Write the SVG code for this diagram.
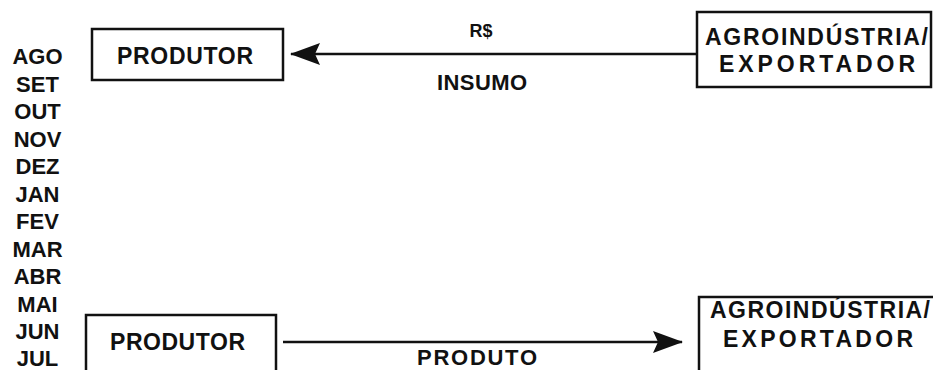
<svg xmlns="http://www.w3.org/2000/svg" width="933" height="370" viewBox="0 0 933 370">
<style>
text{font-family:"Liberation Sans",Arial,sans-serif;font-weight:bold;fill:#111;}
.m{font-size:22px;text-anchor:middle;}
.b{font-size:23px;text-anchor:middle;}
.box{fill:#fff;stroke:#111;stroke-width:2.5;}
.c{stroke:#111;stroke-width:2.5;fill:none;}
</style>
<defs>
<marker id="ah" viewBox="0 0 30 22" refX="29" refY="11" markerWidth="30" markerHeight="22" markerUnits="userSpaceOnUse" orient="auto">
<path d="M0,0 L30,11 L0,22 L5,11 Z" fill="#111"/>
</marker>
</defs>
<rect width="933" height="370" fill="#fff"/>
<g id="months">
<text class="m" x="37.5" y="64">AGO</text>
<text class="m" x="37.5" y="91.5">SET</text>
<text class="m" x="37.5" y="119">OUT</text>
<text class="m" x="37.5" y="146.5">NOV</text>
<text class="m" x="37.5" y="174">DEZ</text>
<text class="m" x="37.5" y="201.5">JAN</text>
<text class="m" x="37.5" y="229">FEV</text>
<text class="m" x="37.5" y="256.5">MAR</text>
<text class="m" x="37.5" y="284">ABR</text>
<text class="m" x="37.5" y="311.5">MAI</text>
<text class="m" x="37.5" y="339">JUN</text>
<text class="m" x="37.5" y="366">JUL</text>
</g>
<g id="connectors">
<line class="c" x1="697" y1="54" x2="291" y2="54" marker-end="url(#ah)"/>
<text class="m" x="481" y="37" style="font-size:19px" textLength="23" lengthAdjust="spacingAndGlyphs">R$</text>
<text class="m" x="482" y="90" textLength="90" lengthAdjust="spacing">INSUMO</text>
<line class="c" x1="283" y1="342" x2="682" y2="342" marker-end="url(#ah)"/>
<text class="m" x="477" y="365" textLength="120" lengthAdjust="spacing">PRODUTO</text>
</g>
<g id="produtor-top">
<rect class="box" x="92" y="29" width="191" height="51"/>
<text class="b" x="185" y="64" textLength="136" lengthAdjust="spacing">PRODUTOR</text>
</g>
<g id="agro-top">
<rect class="box" x="697" y="12" width="234" height="75"/>
<text class="b" x="816.5" y="45" textLength="223" lengthAdjust="spacing">AGROINDÚSTRIA/</text>
<text class="b" x="817" y="71.5" textLength="196" lengthAdjust="spacing">EXPORTADOR</text>
</g>
<g id="produtor-bottom">
<rect class="box" x="86" y="315" width="190" height="70"/>
<text class="b" x="177.5" y="350" textLength="135" lengthAdjust="spacing">PRODUTOR</text>
</g>
<g id="agro-bottom">
<rect class="box" x="699" y="297" width="240" height="90"/>
<text class="b" x="820" y="318" textLength="220" lengthAdjust="spacing">AGROINDÚSTRIA/</text>
<text class="b" x="818" y="347" textLength="190" lengthAdjust="spacing">EXPORTADOR</text>
</g>
</svg>
